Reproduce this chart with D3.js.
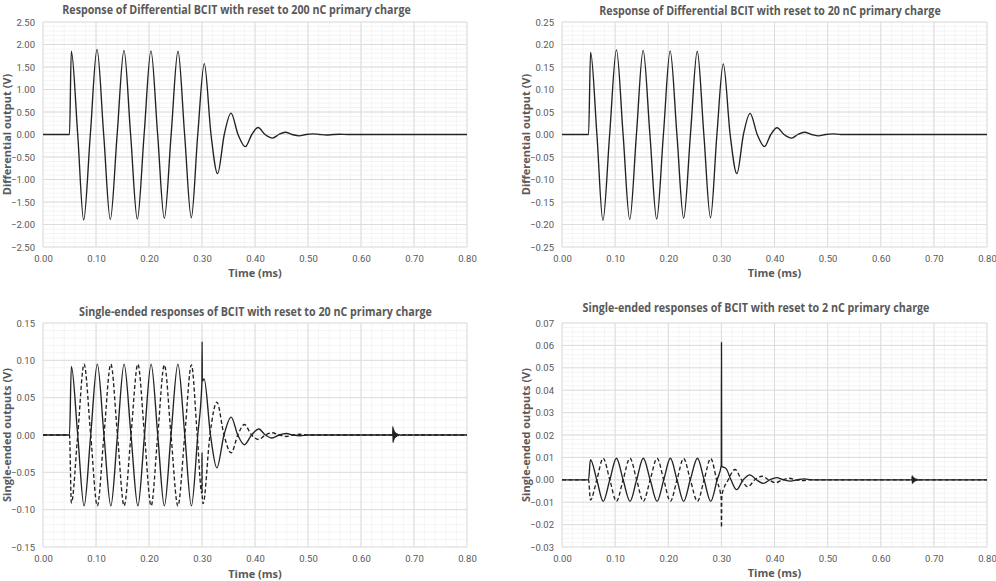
<!DOCTYPE html>
<html>
<head>
<meta charset="utf-8">
<title>BCIT responses</title>
<script src="https://cdn.jsdelivr.net/npm/d3@7"></script>
<style>
    body { margin: 0; background: #fff; }
    svg { display: block; font-family: "Open Sans", "Liberation Sans", sans-serif; }
</style>
</head>
<body>
<div id="chart"></div>
<script>
// tick labels
const timeTicks = [0, 0.1, 0.2, 0.3, 0.4, 0.5, 0.6, 0.7, 0.8];
const diff200Ticks = [-2.5, -2, -1.5, -1, -0.5, 0, 0.5, 1, 1.5, 2, 2.5];
const diff20Ticks = [-0.25, -0.2, -0.15, -0.1, -0.05, 0, 0.05, 0.1, 0.15, 0.2, 0.25];
const single20Ticks = [-0.15, -0.1, -0.05, 0, 0.05, 0.1, 0.15];
const single2Ticks = [-0.03, -0.02, -0.01, 0, 0.01, 0.02, 0.03, 0.04, 0.05, 0.06, 0.07];

const diff200 = [
    [0, 0], [0.050, 0], [0.0534, 1.85], [0.0655, 0], [0.0767, -1.90], [0.0893, 0],
    [0.1019, 1.89], [0.1145, 0], [0.1270, -1.89], [0.1399, 0], [0.1528, 1.87], [0.1653, 0],
    [0.1780, -1.88], [0.1908, 0], [0.2037, 1.86], [0.2163, 0], [0.2289, -1.865], [0.2418, 0],
    [0.2547, 1.85], [0.2672, 0], [0.2798, -1.85], [0.2920, 0], [0.3043, 1.575], [0.3170, 0],
    [0.3294, -0.87], [0.3420, 0], [0.3547, 0.475], [0.3680, 0], [0.3817, -0.27], [0.3940, 0],
    [0.4057, 0.155], [0.4190, 0], [0.4333, -0.08], [0.4450, 0], [0.4570, 0.05], [0.4700, 0],
    [0.4836, -0.03], [0.4960, 0], [0.5090, 0.015], [0.5220, 0], [0.5350, -0.01], [0.5480, 0],
    [0.5600, 0.005], [0.5750, 0], [0.80, 0]
];

const diff20 = [
    [0, 0], [0.050, 0], [0.0538, 0.183], [0.0657, 0], [0.0770, -0.191], [0.0897, 0],
    [0.1025, 0.188], [0.1150, 0], [0.1275, -0.189], [0.1401, 0], [0.1527, 0.187], [0.1655, 0],
    [0.1782, -0.188], [0.1909, 0], [0.2036, 0.186], [0.2163, 0], [0.2290, -0.186], [0.2418, 0],
    [0.2546, 0.185], [0.2670, 0], [0.2795, -0.185], [0.2916, 0], [0.3036, 0.157], [0.3165, 0],
    [0.3292, -0.087], [0.3415, 0], [0.3540, 0.047], [0.3675, 0], [0.3810, -0.027], [0.3930, 0],
    [0.4048, 0.015], [0.4180, 0], [0.4320, -0.008], [0.4440, 0], [0.4560, 0.005], [0.4700, 0],
    [0.4830, -0.003], [0.4960, 0], [0.5100, 0.0015], [0.5250, 0], [0.80, 0]
];

const single20Solid = [
    [0, 0], [0.050, 0], [0.0535, 0.092], [0.0655, 0], [0.0775, -0.095], [0.0900, 0],
    [0.1025, 0.095], [0.1150, 0], [0.1280, -0.095], [0.1405, 0], [0.1530, 0.095], [0.1660, 0],
    [0.1790, -0.095], [0.1915, 0], [0.2040, 0.095], [0.2165, 0], [0.2290, -0.095], [0.2415, 0],
    [0.2545, 0.095], [0.2675, 0], [0.2800, -0.095], [0.2920, 0], [0.2998, 0.070], [0.3002, 0.125],
    [0.3006, 0.072], [0.3040, 0.075], [0.3160, 0], [0.3280, -0.044], [0.3415, 0], [0.3550, 0.024],
    [0.3675, 0], [0.3800, -0.013], [0.3935, 0], [0.4070, 0.008], [0.4195, 0], [0.4320, -0.004],
    [0.4455, 0], [0.4590, 0.002], [0.4720, 0], [0.4850, -0.001], [0.5000, 0]
];

const single20Dashed = [
    [0, 0], [0.050, 0], [0.0535, -0.091], [0.0655, 0], [0.0775, 0.095], [0.0900, 0],
    [0.1025, -0.095], [0.1150, 0], [0.1280, 0.095], [0.1405, 0], [0.1530, -0.095], [0.1660, 0],
    [0.1790, 0.095], [0.1915, 0], [0.2040, -0.095], [0.2165, 0], [0.2290, 0.094], [0.2415, 0],
    [0.2545, -0.095], [0.2675, 0], [0.2800, 0.094], [0.2910, 0], [0.2996, -0.078], [0.3000, -0.024],
    [0.3004, -0.082], [0.3020, -0.092], [0.3150, 0], [0.3280, 0.044], [0.3415, 0], [0.3550, -0.024],
    [0.3675, 0], [0.3800, 0.014], [0.3935, 0], [0.4070, -0.006], [0.4195, 0], [0.4320, 0.003],
    [0.4455, 0], [0.4590, -0.002], [0.4720, 0], [0.4850, 0.001], [0.5000, 0], [0.80, 0]
];

const burst20 = [
    [0.6598, 0], [0.6602, 0.011], [0.6606, -0.010], [0.6610, 0.009], [0.6614, -0.008],
    [0.6618, 0.007], [0.6624, -0.006], [0.6630, 0.005], [0.6636, -0.004], [0.6644, 0.0035],
    [0.6652, -0.003], [0.6660, 0.0025], [0.6670, -0.002], [0.6680, 0.0015], [0.6700, -0.001],
    [0.6720, 0.0006], [0.6750, -0.0003], [0.6800, 0], [0.80, 0]
];

const single2Solid = [
    [0, 0], [0.050, 0], [0.0535, 0.0090], [0.0655, 0], [0.0775, -0.0096], [0.0900, 0],
    [0.1025, 0.0096], [0.1150, 0], [0.1280, -0.0096], [0.1405, 0], [0.1530, 0.0096], [0.1660, 0],
    [0.1790, -0.0096], [0.1915, 0], [0.2040, 0.0096], [0.2165, 0], [0.2290, -0.0096], [0.2415, 0],
    [0.2550, 0.0096], [0.2675, 0], [0.2800, -0.0096], [0.2920, 0], [0.2998, 0.0065], [0.3002, 0.0613],
    [0.3006, 0.006], [0.3086, 0.0051], [0.3180, 0], [0.3287, -0.0044], [0.3410, 0], [0.3538, 0.0022],
    [0.3660, 0], [0.3790, -0.0016], [0.3910, 0], [0.4040, 0.0010], [0.4170, 0], [0.4300, -0.0006],
    [0.4430, 0], [0.4560, 0.0004], [0.4700, 0]
];

const single2Dashed = [
    [0, 0], [0.050, 0], [0.0535, -0.0090], [0.0655, 0], [0.0775, 0.0096], [0.0900, 0],
    [0.1025, -0.0096], [0.1150, 0], [0.1280, 0.0096], [0.1405, 0], [0.1530, -0.0096], [0.1660, 0],
    [0.1790, 0.0096], [0.1915, 0], [0.2040, -0.0096], [0.2165, 0], [0.2290, 0.0095], [0.2415, 0],
    [0.2550, -0.0096], [0.2675, 0], [0.2800, 0.0095], [0.2910, 0], [0.2996, -0.008], [0.3002, -0.0213],
    [0.3008, -0.007], [0.3130, 0], [0.3256, 0.0046], [0.3380, 0], [0.3497, -0.0031], [0.3630, 0],
    [0.3767, 0.0016], [0.3890, 0], [0.4018, -0.0013], [0.4150, 0], [0.4280, 0.0007], [0.4400, 0],
    [0.4530, -0.0004], [0.4650, 0], [0.80, 0]
];

const burst2 = [
    [0.6588, 0], [0.6592, 0.0017], [0.6596, -0.0016], [0.6600, 0.0015], [0.6604, -0.0014],
    [0.6610, 0.0012], [0.6616, -0.0011], [0.6622, 0.0009], [0.6630, -0.0008], [0.6640, 0.0006],
    [0.6650, -0.0005], [0.6662, 0.0004], [0.6676, -0.0003], [0.6690, 0.0002], [0.6710, -0.0001],
    [0.6730, 0], [0.80, 0]
];

const svg = d3.select("#chart")
    .append("svg")
    .attr("width", 996)
    .attr("height", 581);

const panels = [
    {
        left: 43, top: 22, width: 424, height: 225,
        yTicks: diff200Ticks, minorStep: 0.1,
        title: "Response of Differential BCIT with reset to 200 nC primary charge",
        titleX: 236.5, titleY: 14, titleLen: 349,
        yLabel: "Differential output (V)", yLabelX: 7, xLabelY: 273,
        series: [{ data: diff200, dash: null }]
    },
    {
        left: 562, top: 22, width: 425, height: 225,
        yTicks: diff20Ticks, minorStep: 0.01,
        title: "Response of Differential BCIT with reset to 20 nC primary charge",
        titleX: 770, titleY: 15, titleLen: 342,
        yLabel: "Differential output (V)", yLabelX: 526, xLabelY: 273,
        series: [{ data: diff20, dash: null }]
    },
    {
        left: 43, top: 323, width: 424, height: 224,
        yTicks: single20Ticks, minorStep: 0.01,
        title: "Single-ended responses of BCIT with reset to 20 nC primary charge",
        titleX: 255.5, titleY: 315.5, titleLen: 353,
        yLabel: "Single-ended outputs (V)", yLabelX: 7, xLabelY: 574,
        series: [
            { data: single20Dashed, dash: "4,2.5" },
            { data: single20Solid.concat(burst20), dash: null }
        ]
    },
    {
        left: 562, top: 323, width: 425, height: 224,
        yTicks: single2Ticks, minorStep: 0.002,
        title: "Single-ended responses of BCIT with reset to 2 nC primary charge",
        titleX: 756, titleY: 312, titleLen: 347,
        yLabel: "Single-ended outputs (V)", yLabelX: 526, xLabelY: 573,
        series: [
            { data: single2Dashed, dash: "4,2.5" },
            { data: single2Solid.concat(burst2), dash: null }
        ]
    }
];

const drawPanel = (p) => {
    const yMin = p.yTicks[0];
    const yMax = p.yTicks[p.yTicks.length - 1];

    const x = d3.scaleLinear()
        .domain([timeTicks[0], timeTicks[timeTicks.length - 1]])
        .range([p.left, p.left + p.width]);

    const y = d3.scaleLinear()
        .domain([yMin, yMax])
        .range([p.top + p.height, p.top]);

    // minor grid (5 per major)
    const minorX = d3.range(0, 0.8001, 0.02);
    const minorY = d3.range(yMin, yMax + p.minorStep / 2, p.minorStep);

    const grid = svg.append("g");

    grid.selectAll(".mx")
        .data(minorX)
        .enter()
        .append("line")
        .attr("x1", d => x(d)).attr("x2", d => x(d))
        .attr("y1", p.top).attr("y2", p.top + p.height)
        .attr("stroke", "#f4f4f4")
        .attr("stroke-width", 1);

    grid.selectAll(".my")
        .data(minorY)
        .enter()
        .append("line")
        .attr("x1", p.left).attr("x2", p.left + p.width)
        .attr("y1", d => y(d)).attr("y2", d => y(d))
        .attr("stroke", "#f4f4f4")
        .attr("stroke-width", 1);

    // major grid
    grid.selectAll(".gx")
        .data(timeTicks)
        .enter()
        .append("line")
        .attr("x1", d => x(d)).attr("x2", d => x(d))
        .attr("y1", p.top).attr("y2", p.top + p.height)
        .attr("stroke", "#dcdcdc")
        .attr("stroke-width", 1);

    grid.selectAll(".gy")
        .data(p.yTicks)
        .enter()
        .append("line")
        .attr("x1", p.left).attr("x2", p.left + p.width)
        .attr("y1", d => y(d)).attr("y2", d => y(d))
        .attr("stroke", "#dcdcdc")
        .attr("stroke-width", 1);

    // axes, labels only
    const xAxis = svg.append("g")
        .attr("transform", `translate(0,${p.top + p.height})`)
        .call(d3.axisBottom(x).tickValues(timeTicks).tickFormat(d3.format(".2f")).tickSize(0).tickPadding(8));

    const yAxis = svg.append("g")
        .attr("transform", `translate(${p.left},0)`)
        .call(d3.axisLeft(y).tickValues(p.yTicks).tickFormat(d3.format(".2f")).tickSize(0).tickPadding(8));

    [xAxis, yAxis].forEach(a => {
        a.select(".domain").remove();
        a.selectAll("text")
            .attr("fill", "#595959")
            .style("font-size", "9.5px")
            .style("font-family", "Roboto, sans-serif");
    });

    // waveforms
    const line = d3.line()
        .x(d => x(d[0]))
        .y(d => y(d[1]))
        .curve(d3.curveMonotoneX);

    p.series.forEach(s => {
        svg.append("path")
            .datum(s.data)
            .attr("fill", "none")
            .attr("stroke", "#222")
            .attr("stroke-width", 1.35)
            .attr("stroke-dasharray", s.dash)
            .attr("d", line);
    });

    // title, squeezed horizontally to the narrow width of the original
    const title = svg.append("text")
        .attr("text-anchor", "middle")
        .attr("fill", "#595959")
        .style("font-size", "13px")
        .style("font-weight", "700")
        .text(p.title);

    const natural = title.node().getComputedTextLength();
    const squeeze = Math.min(1, p.titleLen / natural);
    title.attr("transform", `translate(${p.titleX},${p.titleY}) scale(${squeeze},1)`);

    svg.append("text")
        .attr("x", p.left + p.width / 2)
        .attr("y", p.xLabelY)
        .attr("dy", "0.35em")
        .attr("text-anchor", "middle")
        .attr("fill", "#595959")
        .style("font-size", "11px")
        .style("font-weight", "700")
        .text("Time (ms)");

    svg.append("text")
        .attr("transform", `translate(${p.yLabelX},${p.top + p.height / 2}) rotate(-90)`)
        .attr("dy", "0.35em")
        .attr("text-anchor", "middle")
        .attr("fill", "#595959")
        .style("font-size", "11px")
        .style("font-weight", "700")
        .text(p.yLabel);
};

panels.forEach(drawPanel);
</script>
</body>
</html>
